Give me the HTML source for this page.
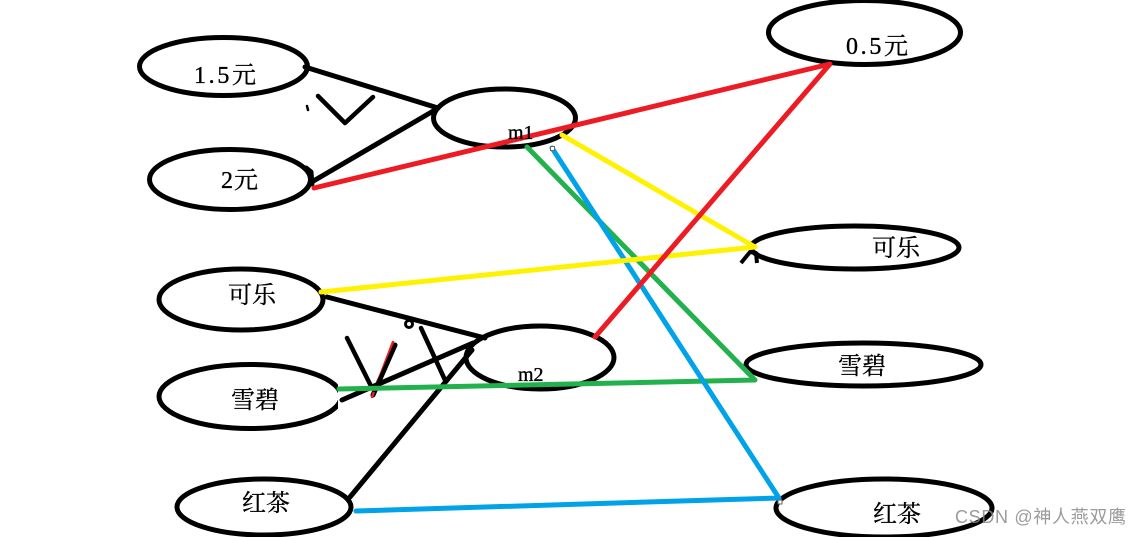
<!DOCTYPE html>
<html>
<head>
<meta charset="utf-8">
<style>
html,body{margin:0;padding:0;background:#fff;width:1141px;height:537px;overflow:hidden}
svg{display:block}
text{font-family:"Liberation Serif","Noto Serif CJK SC",serif;fill:#000}
.c{font-size:24px;stroke:#000;stroke-width:.35}
.m{font-size:20px;stroke:#000;stroke-width:.35}
.w{font-family:"Liberation Sans","Noto Sans CJK SC",sans-serif;font-size:18px;fill:#8a8a8a;fill-opacity:.85}
</style>
</head>
<body>
<svg width="1141" height="537" viewBox="0 0 1141 537" xmlns="http://www.w3.org/2000/svg">
<defs><clipPath id="cl"><rect x="100" y="350" width="238" height="90"/></clipPath></defs>
<rect width="1141" height="537" fill="#fff"/>
<g fill="none" stroke="#000" stroke-width="5">
<ellipse cx="223.5" cy="66.5" rx="84" ry="29"/>
<ellipse cx="230" cy="179.5" rx="80.5" ry="30"/>
<ellipse cx="504.5" cy="118" rx="71" ry="29"/>
<ellipse cx="864.5" cy="32.5" rx="96" ry="32"/>
<ellipse cx="241" cy="299.5" rx="82" ry="30.5"/>
<ellipse cx="250" cy="396.5" rx="91" ry="32" clip-path="url(#cl)"/>
<ellipse cx="264" cy="507" rx="87" ry="28"/>
<ellipse cx="540" cy="357.5" rx="74" ry="31.5"/>
<ellipse cx="855" cy="247.5" rx="104" ry="21.5"/>
<ellipse cx="863.5" cy="364.5" rx="117.5" ry="21.5"/>
<ellipse cx="884" cy="508" rx="108" ry="29"/>
</g>
<g fill="none" stroke="#000" stroke-width="5" stroke-linecap="round" stroke-linejoin="round">
<path d="M305 67L438 108"/>
<path d="M310 183L435 110"/>
<path d="M306 168L311 172L312 184"/>
<path d="M318 96L345 123L373 97" stroke-width="4.5"/>
<path d="M307 106L308 110" stroke-width="2.5"/>
<path d="M327 297L485 338"/>
<path d="M342 400L473 343"/>
<path d="M350 497L472 350"/>
<path d="M347 338L372 388" stroke-width="4.5"/>
<path d="M373 395L395 345" stroke-width="5"/>
<path d="M421 328L445 380" stroke-width="4.5"/>
<circle cx="409" cy="324" r="3.5" stroke-width="3"/>
<path d="M741 263L750 252L756 253L757 263" stroke-width="4" stroke-linecap="butt"/>
</g>
<path d="M393 342L372 397" stroke="#ed1c24" stroke-width="2.5" fill="none" stroke-linecap="round"/>
<path d="M394.500 346L374 392" stroke="#000" stroke-width="3.5" fill="none"/>
<g fill="none" stroke-width="5" stroke-linecap="round" stroke-linejoin="round">
<path d="M527 147L755 380L339 389" stroke="#22b14c"/>
<path d="M552 148L779 498L356 511" stroke="#00a2e8"/>
<path d="M321 292L755 247L562 135" stroke="#fff200"/>
<path d="M314 188L830 64L595 337" stroke="#ed1c24"/>
</g>
<rect x="550.5" y="146.5" width="4" height="4" fill="#fff" stroke="#666" stroke-width="1"/>
<rect x="778" y="500" width="4" height="4" fill="#fff" stroke="#666" stroke-width="1"/>
<text class="c" x="194" y="83" textLength="62" lengthAdjust="spacing">1.5元</text>
<text class="c" x="221" y="188" textLength="37" lengthAdjust="spacing">2元</text>
<text class="c" x="846" y="54" textLength="62" lengthAdjust="spacing">0.5元</text>
<text class="m" x="508" y="139">m1</text>
<text class="m" x="518" y="381">m2</text>
<text class="c" x="228" y="303" textLength="48" lengthAdjust="spacing">可乐</text>
<text class="c" x="231" y="408" textLength="48" lengthAdjust="spacing">雪碧</text>
<text class="c" x="242" y="511" textLength="48" lengthAdjust="spacing">红茶</text>
<text class="c" x="872" y="256" textLength="48" lengthAdjust="spacing">可乐</text>
<text class="c" x="838" y="374" textLength="48" lengthAdjust="spacing">雪碧</text>
<text class="c" x="873" y="522" textLength="48" lengthAdjust="spacing">红茶</text>
<text class="w" x="955" y="523" textLength="171" lengthAdjust="spacing">CSDN @神人燕双鹰</text>
</svg>
</body>
</html>
